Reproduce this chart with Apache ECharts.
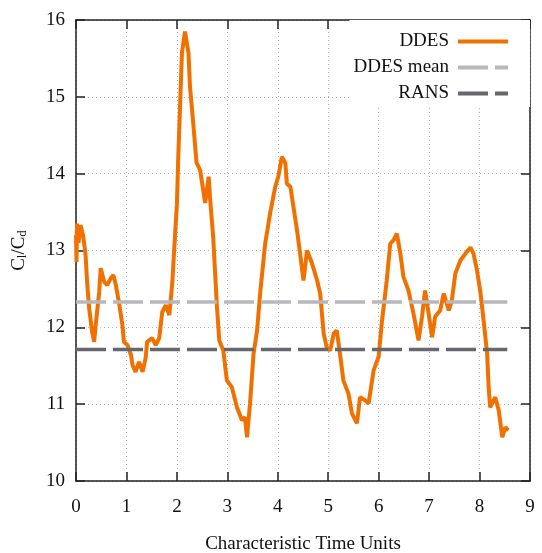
<!DOCTYPE html>
<html>
  <head>
    <meta charset="utf-8">
    <title>DDES vs RANS Cl/Cd</title>
    <script src="https://cdn.jsdelivr.net/npm/echarts@6/dist/echarts.min.js"></script>
    <style type="text/css">
      html, body { margin: 0; padding: 0; background: #fff; }
      #main { width: 542px; height: 553px; }
    </style>
  </head>
  <body>
    <div id="main"></div>
    <script type="text/javascript">
      // time (characteristic units) and Cl/Cd
      var tVals = [0.00, 0.01, 0.02, 0.05, 0.09, 0.14, 0.19, 0.22, 0.26, 0.32, 0.36, 0.39, 0.46, 0.49, 0.56, 0.62, 0.69, 0.74, 0.79, 0.85, 0.92, 0.95,
        1.02, 1.09, 1.12, 1.18, 1.25, 1.32, 1.38, 1.41, 1.51, 1.58, 1.65, 1.71, 1.78, 1.85, 1.91, 1.94,
        2.00, 2.03, 2.10, 2.16, 2.23, 2.26, 2.33, 2.39, 2.46, 2.56, 2.63, 2.66, 2.72, 2.79, 2.84, 2.92, 2.99,
        3.09, 3.19, 3.29, 3.35, 3.39, 3.45, 3.52, 3.59, 3.65, 3.75, 3.85, 3.95,
        4.01, 4.08, 4.15, 4.18, 4.25, 4.31, 4.38, 4.44, 4.51, 4.58, 4.68, 4.78, 4.84, 4.91, 4.97,
        5.04, 5.11, 5.17, 5.24, 5.30, 5.40, 5.47, 5.57, 5.63, 5.73, 5.80, 5.90,
        6.00, 6.06, 6.16, 6.23, 6.30, 6.36, 6.43, 6.49, 6.59, 6.69, 6.79, 6.86, 6.92, 6.99,
        7.06, 7.12, 7.22, 7.29, 7.39, 7.45, 7.52, 7.62, 7.72, 7.82, 7.88, 7.95,
        8.02, 8.08, 8.15, 8.18, 8.21, 8.31, 8.38, 8.45, 8.51, 8.57];
      var ddesVals = [13.20, 12.85, 13.35, 13.10, 13.33, 13.20, 12.94, 12.59, 12.25, 11.94, 11.81, 12.03, 12.46, 12.77, 12.59, 12.55, 12.64, 12.68, 12.55, 12.33, 12.03, 11.81,
        11.77, 11.64, 11.51, 11.42, 11.55, 11.42, 11.60, 11.81, 11.86, 11.77, 11.86, 12.20, 12.29, 12.16, 12.59, 12.94,
        13.60, 14.27, 15.57, 15.85, 15.57, 15.13, 14.61, 14.14, 14.05, 13.62, 13.96, 13.66, 13.17, 12.31, 11.83, 11.70, 11.31,
        11.22, 10.96, 10.79, 10.83, 10.57, 11.01, 11.66, 11.96, 12.44, 13.09, 13.49, 13.83,
        13.96, 14.22, 14.14, 13.87, 13.83, 13.57, 13.27, 12.97, 12.61, 13.00, 12.83, 12.61, 12.44, 11.92, 11.74,
        11.70, 11.92, 11.96, 11.62, 11.31, 11.14, 10.88, 10.75, 11.09, 11.05, 11.01, 11.44,
        11.62, 12.05, 12.61, 13.09, 13.14, 13.22, 12.96, 12.66, 12.48, 12.18, 11.83, 12.14, 12.48, 12.18,
        11.87, 12.14, 12.22, 12.44, 12.22, 12.35, 12.70, 12.87, 12.96, 13.04, 12.96, 12.74,
        12.44, 12.09, 11.66, 11.22, 10.96, 11.09, 10.92, 10.57, 10.70, 10.66];
      var ddesMean = 12.33;
      var ransVal = 11.71;
      var tEnd = 8.55;
      var xTicks = [0, 9, 1];   // min, max, step
      var yTicks = [10, 16, 1];

      var ddesData = [];
      for (var i = 0; i < tVals.length; i++) {
        ddesData.push([tVals[i], ddesVals[i]]);
      }

      var serif = 'Liberation Serif';
      var gridLine = { show: true, lineStyle: { color: '#b4b4b4', type: [1, 3], width: 1 } };
      var frame = { show: true, onZero: false, lineStyle: { color: '#222', width: 1.5 } };
      var tick = { show: true, inside: true, length: 9, lineStyle: { color: '#222', width: 1.5 } };

      var myChart = echarts.init(document.getElementById('main'));
      var option = {
        backgroundColor: '#fff',
        animation: false,
        grid: { left: 76, right: 12, top: 20, bottom: 72, outerBoundsMode: 'none', containLabel: false },
        legend: {
          orient: 'vertical',
          right: 12,
          top: 20,
          align: 'right',
          backgroundColor: '#fff',
          padding: [12, 20, 4, 4],
          itemGap: 7,
          itemWidth: 50,
          itemHeight: 18,
          itemStyle: { opacity: 0 },
          lineStyle: { width: 4 },
          textStyle: { fontFamily: serif, fontSize: 19, color: '#111', padding: [0, 4, 0, 0] },
          data: ['DDES', 'DDES mean', 'RANS']
        },
        xAxis: [{
          type: 'value', min: xTicks[0], max: xTicks[1], interval: xTicks[2],
          name: 'Characteristic Time Units', nameLocation: 'middle', nameGap: 54,
          nameTextStyle: { fontFamily: serif, fontSize: 19, color: '#111' },
          axisLine: frame, axisTick: tick, splitLine: gridLine,
          axisLabel: { fontFamily: serif, fontSize: 19, color: '#111', margin: 17 }
        }, {
          type: 'value', position: 'top', min: xTicks[0], max: xTicks[1], interval: xTicks[2],
          axisLine: frame, axisTick: tick, splitLine: { show: false }, axisLabel: { show: false }
        }],
        yAxis: [{
          type: 'value', min: yTicks[0], max: yTicks[1], interval: yTicks[2],
          name: 'C{sub|l}/C{sub|d}', nameLocation: 'middle', nameGap: 47, nameRotate: 90,
          nameTextStyle: {
            fontFamily: serif, fontSize: 19, color: '#111',
            rich: { sub: { fontFamily: serif, fontSize: 13, color: '#111', padding: [7, 0, 0, 0] } }
          },
          axisLine: frame, axisTick: tick, splitLine: gridLine,
          axisLabel: { fontFamily: serif, fontSize: 19, color: '#111', margin: 11 }
        }, {
          type: 'value', position: 'right', min: yTicks[0], max: yTicks[1], interval: yTicks[2],
          axisLine: frame, axisTick: tick, splitLine: { show: false }, axisLabel: { show: false }
        }],
        series: [{
          name: 'DDES', type: 'line', showSymbol: false, symbol: 'none',
          data: ddesData,
          itemStyle: { color: '#f07000' },
          lineStyle: { color: '#f07000', width: 4 },
          z: 2
        }, {
          name: 'DDES mean', type: 'line', showSymbol: false, symbol: 'none',
          data: [[0, ddesMean], [tEnd, ddesMean]],
          itemStyle: { color: '#b8b8bc' },
          lineStyle: { color: '#b8b8bc', width: 3.5, type: [30, 7] },
          z: 3
        }, {
          name: 'RANS', type: 'line', showSymbol: false, symbol: 'none',
          data: [[0, ransVal], [tEnd, ransVal]],
          itemStyle: { color: '#67676f' },
          lineStyle: { color: '#67676f', width: 3.5, type: [30, 7] },
          z: 3
        }]
      };
      myChart.setOption(option);
    </script>
  </body>
</html>
